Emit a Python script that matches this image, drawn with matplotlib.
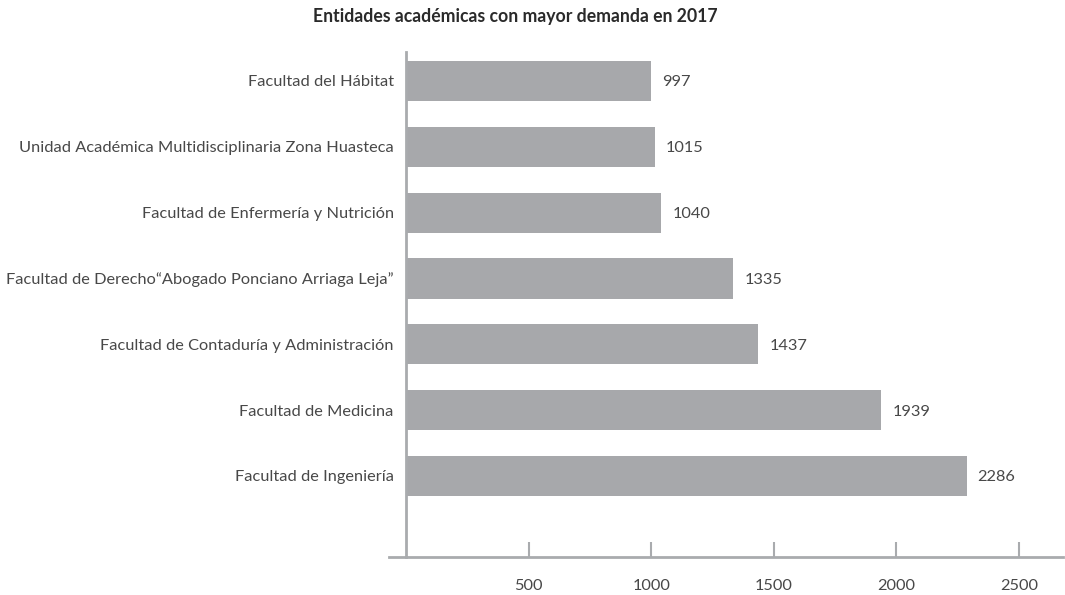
import matplotlib
matplotlib.use("Agg")
import matplotlib.pyplot as plt

categories = [
    "Facultad del Hábitat",
    "Unidad Académica Multidisciplinaria Zona Huasteca",
    "Facultad de Enfermería y Nutrición",
    "Facultad de Derecho\u201cAbogado Ponciano Arriaga Leja\u201d",
    "Facultad de Contaduría y Administración",
    "Facultad de Medicina",
    "Facultad de Ingeniería",
]
values = [997, 1015, 1040, 1335, 1437, 1939, 2286]
x_ticks = [500, 1000, 1500, 2000, 2500]
title = "Entidades académicas con mayor demanda en 2017"

bar_color = "#a7a8ab"
axis_color = "#a9abae"
text_color = "#484848"

plt.rcParams["font.family"] = ["Lato", "DejaVu Sans"]

fig = plt.figure(figsize=(10.65, 5.95), dpi=100)
ax = fig.add_axes([0.3653, 0.0639, 0.6329, 0.8487])

y_pos = list(range(len(categories)))
ax.barh(y_pos, values, height=0.61, color=bar_color, zorder=2)

for y, v in zip(y_pos, values):
    ax.annotate(f"{v}", xy=(v, y), xytext=(8, -1), textcoords="offset points",
                ha="left", va="center", fontsize=11.8, color=text_color)

ax.set_xlim(-70, 2680)
ax.set_ylim(len(categories) - 1 + 1.23, -0.44)

ax.tick_params(axis="y", length=0, pad=9, labelsize=11.8, labelcolor=text_color)
ax.tick_params(axis="x", direction="in", length=11, width=1.5, color=axis_color,
               pad=16, labelsize=11.8, labelcolor=text_color)
ax.set_yticks(y_pos, labels=categories)
ax.set_xticks(x_ticks, labels=[str(t) for t in x_ticks])

for side in ("top", "right"):
    ax.spines[side].set_visible(False)
ax.spines["left"].set_position(("data", 0))
ax.spines["left"].set_color(axis_color)
ax.spines["left"].set_linewidth(2)
ax.spines["bottom"].set_color(axis_color)
ax.spines["bottom"].set_linewidth(2)

fig.text(0.4836, 0.972, title, ha="center", va="center", fontsize=12.7,
         fontweight="bold", color="#2a2a2a")

fig.savefig("out.png", dpi=100, facecolor="white")
